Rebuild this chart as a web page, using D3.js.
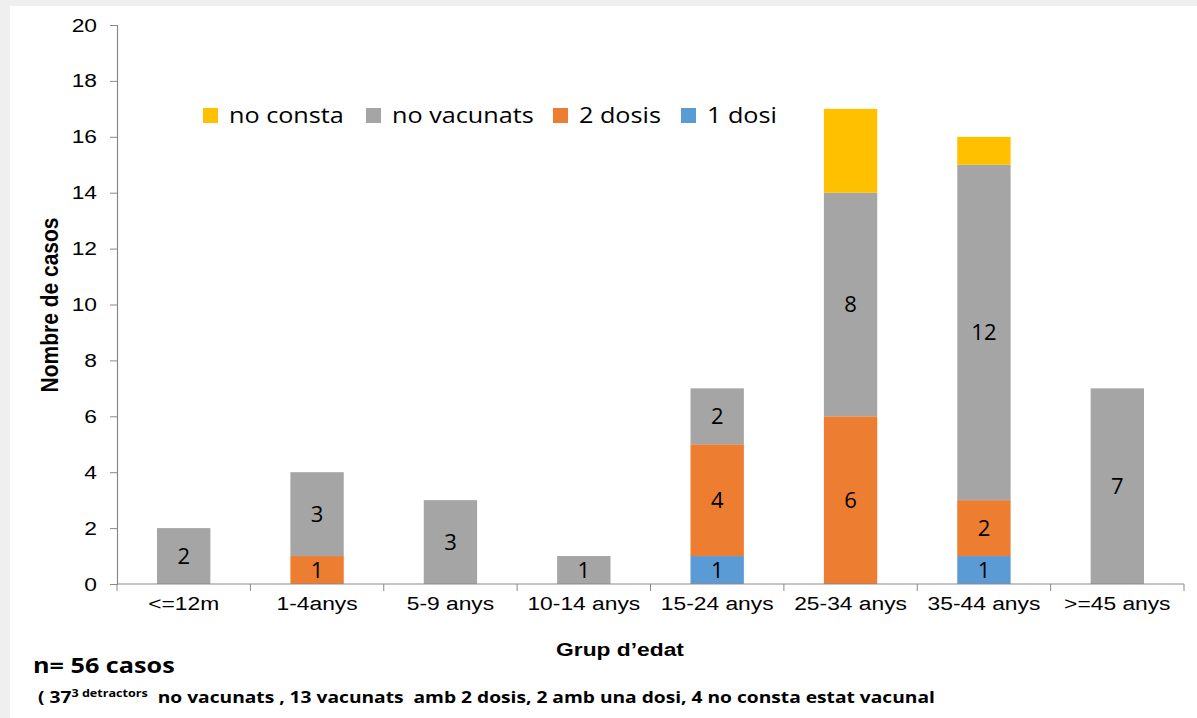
<!DOCTYPE html>
<html><head><meta charset="utf-8">
<script src="https://cdn.jsdelivr.net/npm/d3@7"></script>
<style>body{margin:0;background:#fff}svg{display:block}</style>
</head><body>
<script>
const categories = ["<=12m","1-4anys","5-9 anys","10-14 anys","15-24 anys","25-34 anys","35-44 anys",">=45 anys"];
const seriesNames = ["1 dosi","2 dosis","no vacunats","no consta"];
const dosi1 = [0,0,0,0,1,0,1,0];
const dosis2 = [0,1,0,0,4,6,2,0];
const noVacunats = [2,3,3,1,2,8,12,7];
const noConsta = [0,0,0,0,0,3,1,0];
const yTicks = [0,2,4,6,8,10,12,14,16,18,20];
const colors = {"1 dosi":"#5B9BD5","2 dosis":"#ED7D31","no vacunats":"#A5A5A5","no consta":"#FFC000"};
const labelled = {"1 dosi":true,"2 dosis":true,"no vacunats":true,"no consta":false};
const legendOrder = ["no consta","no vacunats","2 dosis","1 dosi"];

const W=1197,H=718, SX=1.2;
const ARIAL="'Liberation Sans', Arial, sans-serif", CAL="'Open Sans', Lato, sans-serif";
const svg=d3.select("body").append("svg").attr("width",W).attr("height",H);
svg.append("rect").attr("width",W).attr("height",H).attr("fill","#efefef");
svg.append("rect").attr("x",10).attr("y",6).attr("width",W-10).attr("height",H-6).attr("fill","#fff");

function stext(x,y,str,font,size,weight,anchor){
  return svg.append("text").attr("transform",`translate(${x},${y}) scale(${SX},1)`)
    .attr("font-family",font).attr("font-size",size).attr("font-weight",weight||"normal")
    .attr("text-anchor",anchor||"start").attr("fill","#000").text(str);
}

const table = categories.map((c,i)=>({cat:c,"1 dosi":dosi1[i],"2 dosis":dosis2[i],"no vacunats":noVacunats[i],"no consta":noConsta[i]}));
const stacked = d3.stack().keys(seriesNames)(table);

const x=d3.scaleBand().domain(categories).range([117,1184]).paddingInner(0.6).paddingOuter(0.3);
const y=d3.scaleLinear().domain([0,20]).range([584,25]);

// bars
const g=svg.append("g");
stacked.forEach(s=>{
  g.selectAll(null).data(s.filter(d=>d[1]-d[0]>0)).enter().append("rect")
    .attr("x",d=>x(d.data.cat)).attr("width",x.bandwidth())
    .attr("y",d=>y(d[1])).attr("height",d=>y(d[0])-y(d[1]))
    .attr("fill",colors[s.key]);
  if(labelled[s.key]){
    g.selectAll(null).data(s.filter(d=>d[1]-d[0]>0)).enter().append("text")
      .attr("x",d=>x(d.data.cat)+x.bandwidth()/2).attr("y",d=>y((d[0]+d[1])/2))
      .attr("dy","0.36em").attr("text-anchor","middle")
      .attr("font-family",CAL).attr("font-size",22).attr("fill","#000")
      .text(d=>d[1]-d[0]);
  }
});

// y axis
const ya=svg.append("g").attr("transform","translate(117,0)")
  .call(d3.axisLeft(y).tickValues(yTicks).tickSize(7).tickPadding(9).tickFormat(d3.format("d")));
ya.select(".domain").attr("stroke","#898989").attr("stroke-width",1.2);
ya.selectAll(".tick line").attr("stroke","#898989");
ya.selectAll("text").attr("font-family",ARIAL).style("font-size","19px").attr("fill","#000")
  .attr("transform",`scale(${SX},1)`).attr("x",-20/SX);

// x axis
const xa=svg.append("g").attr("transform","translate(0,584)")
  .call(d3.axisBottom(x).tickSize(0).tickPadding(13));
xa.select(".domain").attr("d","M117,0H1184").attr("stroke","#898989").attr("stroke-width",1.2);
xa.selectAll("text").attr("font-family",ARIAL).style("font-size","19px").attr("fill","#000")
  .attr("transform",`scale(${SX},1)`);
const bounds = categories.map(c=>x(c)-x.step()*x.paddingInner()/2).concat([1184]);
bounds[0]=117;
xa.selectAll(".bound").data(bounds).enter().append("line").attr("class","bound")
  .attr("x1",d=>d).attr("x2",d=>d).attr("y1",0).attr("y2",7).attr("stroke","#898989");

// axis titles
svg.append("text").attr("transform","translate(58,305) rotate(-90) scale(1,1.15)").attr("text-anchor","middle")
  .attr("font-family",ARIAL).attr("font-weight","bold").attr("font-size",21)
  .text("Nombre de casos");
stext(620,656,"Grup d\u2019edat",ARIAL,19,"bold","middle");

// legend
const legendX=[203,366,553,681];
legendOrder.forEach((k,i)=>{
  svg.append("rect").attr("x",legendX[i]).attr("y",108).attr("width",15).attr("height",15).attr("fill",colors[k]);
  stext(legendX[i]+26,123,k,CAL,21,"normal","start");
});

// notes
stext(33,673,"n= 56 casos",CAL,21,"bold","start");
const fn=svg.append("text").attr("transform",`translate(38,703) scale(${SX},1)`).attr("font-family",CAL).attr("font-weight","bold").attr("font-size",16);
fn.append("tspan").text("( 37");
fn.append("tspan").attr("font-size",10.5).attr("dy",-6).text("3 detractors");
fn.append("tspan").attr("dy",6).attr("xml:space","preserve").text("\u00a0 no vacunats , 13 vacunats \u00a0amb 2 dosis, 2 amb una dosi, 4 no consta estat vacunal");
</script>
</body></html>
